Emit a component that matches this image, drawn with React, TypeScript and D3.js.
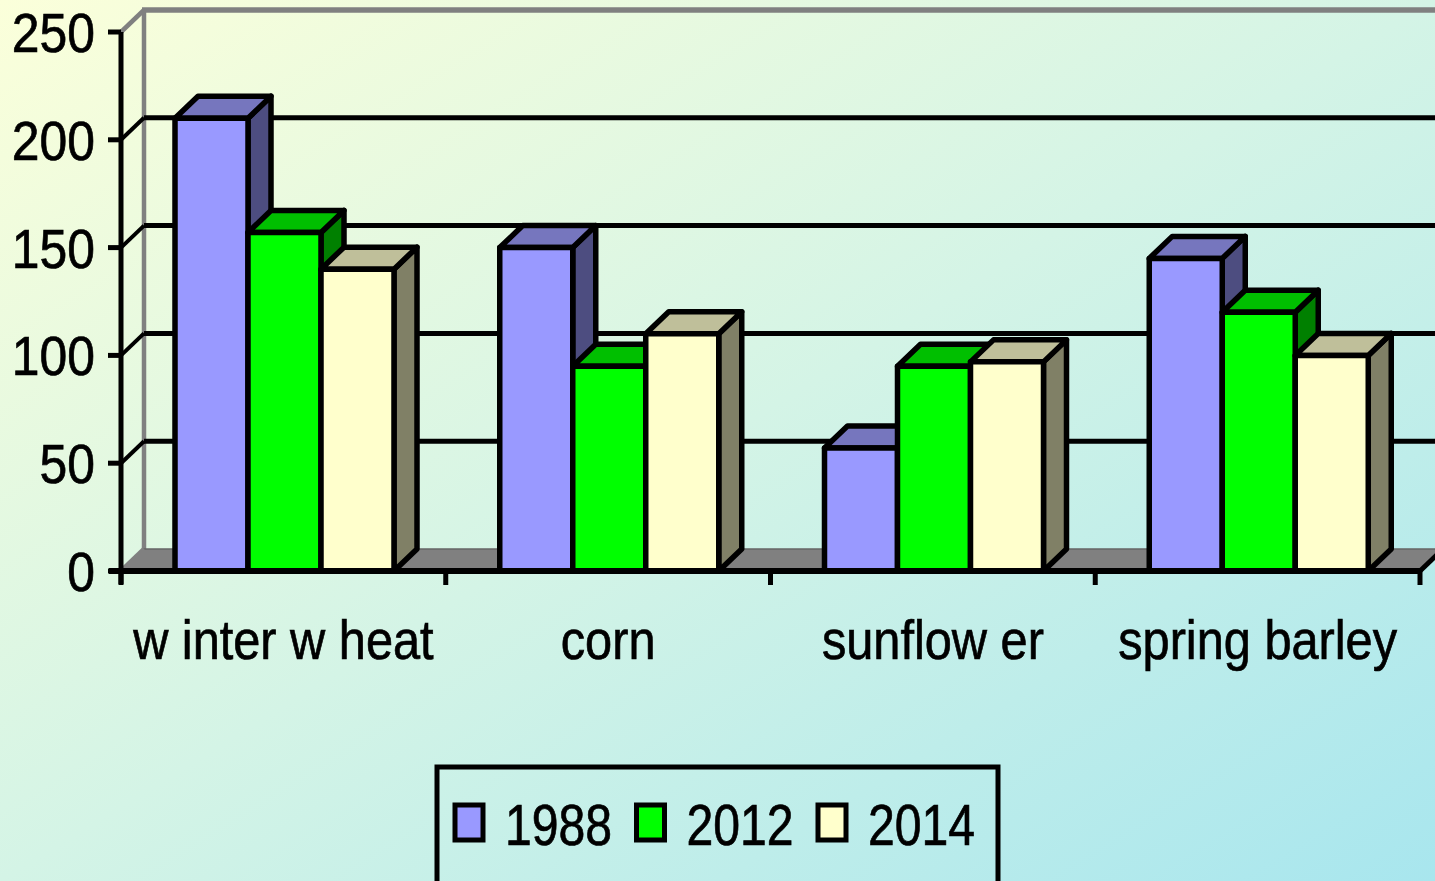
import * as d3 from 'd3';

const categories = ['w inter w heat', 'corn', 'sunflow er', 'spring barley'];
const years = ['1988', '2012', '2014'];
const values1988 = [210, 150, 57, 145];
const values2012 = [157, 95, 95, 120];
const values2014 = [140, 110, 97, 100];
const yTicks = [0, 50, 100, 150, 200, 250];

const seriesValues = [values1988, values2012, values2014];
const faceColors = [
  { front: '#9999FF', top: '#7676BE', side: '#4D4D80' },
  { front: '#00FF00', top: '#00BF00', side: '#008000' },
  { front: '#FFFFCC', top: '#BFBF9A', side: '#808066' },
];

const W = 1435;
const H = 881;
const DX = 23;
const DY = 22;
const FONT = '"Liberation Sans", Arial, sans-serif';

export default function App() {
  const y = d3.scaleLinear().domain([0, 250]).range([571, 32]);
  const xCat = d3.scaleBand<string>().domain(categories).range([121, 1420]);
  const xSer = d3.scaleBand<string>().domain(years).range([54, 273]);
  const y0 = y(0);
  const xEnd = 1420;

  const bars: JSX.Element[] = [];
  categories.forEach((c, ci) => {
    years.forEach((yr, si) => {
      const v = seriesValues[si][ci];
      const bx = xCat(c)! + xSer(yr)!;
      const bw = xSer.bandwidth();
      const yt = y(v);
      const col = faceColors[si];
      const pts = (p: number[][]) => p.map((q) => q.join(',')).join(' ');
      bars.push(
        <g key={c + yr} stroke="#000" strokeWidth={5.5} strokeLinejoin="round">
          <polygon
            fill={col.side}
            points={pts([[bx + bw, yt], [bx + bw + DX, yt - DY], [bx + bw + DX, y0 - DY], [bx + bw, y0]])}
          />
          <polygon
            fill={col.top}
            points={pts([[bx, yt], [bx + DX, yt - DY], [bx + bw + DX, yt - DY], [bx + bw, yt]])}
          />
          <rect x={bx} y={yt} width={bw} height={y0 - yt} fill={col.front} />
        </g>,
      );
    });
  });

  const textStyle = { fontFamily: FONT, fill: '#000', stroke: '#000', strokeWidth: 0.7 };

  return (
    <div style={{ position: 'fixed', left: 0, top: 0 }}>
      <svg width={W} height={H} style={{ display: 'block' }}>
        <defs>
          <linearGradient id="bg" x1="0" y1="0" x2="1" y2="1">
            <stop offset="0" stopColor="#FBFFDA" />
            <stop offset="0.5" stopColor="#D4F4E6" />
            <stop offset="1" stopColor="#A8E6EE" />
          </linearGradient>
        </defs>
        <rect width={W} height={H} fill="url(#bg)" />

        {/* back wall */}
        <line x1={144} x2={144} y1={y(250) - DY} y2={y0 - DY} stroke="#808080" strokeWidth={4.5} />
        <line x1={142} x2={W} y1={y(250) - DY} y2={y(250) - DY} stroke="#808080" strokeWidth={5.5} />
        {yTicks
          .filter((t) => t > 0 && t < 250)
          .map((t) => (
            <line key={t} x1={144} x2={W} y1={y(t) - DY} y2={y(t) - DY} stroke="#000" strokeWidth={5} />
          ))}

        {/* floor */}
        <polygon
          fill="#808080"
          stroke="#666"
          strokeWidth={1.5}
          points={`121,${y0} ${xEnd},${y0} ${xEnd + DX},${y0 - DY} 144,${y0 - DY}`}
        />
        <line x1={xEnd} y1={y0} x2={xEnd + DX} y2={y0 - DY} stroke="#000" strokeWidth={5} />

        {/* tick diagonals */}
        {yTicks.map((t) => (
          <line
            key={'d' + t}
            x1={121}
            y1={y(t)}
            x2={144}
            y2={y(t) - DY}
            stroke={t === 0 || t === 250 ? '#808080' : '#000'}
            strokeWidth={t === 0 || t === 250 ? 4.5 : 4}
          />
        ))}

        {bars}

        {/* axes */}
        <line x1={121} x2={121} y1={y(250)} y2={y0 + 13} stroke="#000" strokeWidth={5} />
        <line x1={109} x2={xEnd} y1={y0} y2={y0} stroke="#000" strokeWidth={6} />
        {yTicks.map((t) => (
          <g key={'t' + t}>
            <line x1={108} x2={121} y1={y(t)} y2={y(t)} stroke="#000" strokeWidth={5} />
            <text
              transform={`translate(95,${y(t) + 20}) scale(0.89,1)`}
              textAnchor="end"
              fontSize={56}
              style={textStyle}
            >
              {t}
            </text>
          </g>
        ))}
        {[...categories.map((c) => xCat(c)!), xEnd].map((x, i) => (
          <line key={'ct' + i} x1={x} x2={x} y1={y0} y2={y0 + 14} stroke="#000" strokeWidth={5} />
        ))}
        {categories.map((c) => (
          <text
            key={'cl' + c}
            transform={`translate(${xCat(c)! + xCat.bandwidth() / 2},659) scale(0.87,1)`}
            textAnchor="middle"
            fontSize={56}
            style={textStyle}
          >
            {c}
          </text>
        ))}

        {/* legend */}
        <rect x={437} y={767} width={561} height={130} fill="none" stroke="#000" strokeWidth={5} />
        {years.map((yr, i) => {
          const lx = 455 + i * 181.5;
          return (
            <g key={'lg' + yr}>
              <rect x={lx} y={805} width={28} height={35} fill={faceColors[i].front} stroke="#000" strokeWidth={5} />
              <text
                transform={`translate(${lx + 50},845) scale(0.83,1)`}
                fontSize={58}
                style={textStyle}
              >
                {yr}
              </text>
            </g>
          );
        })}
      </svg>
    </div>
  );
}
